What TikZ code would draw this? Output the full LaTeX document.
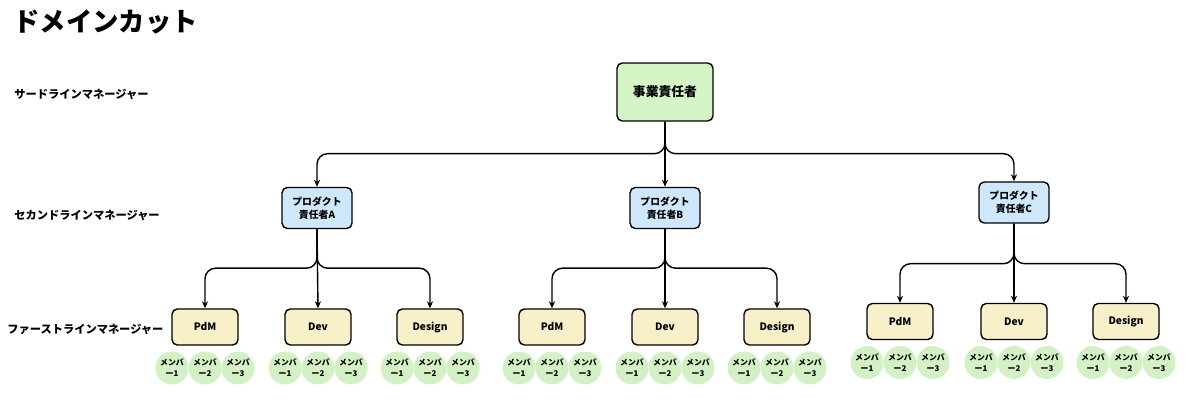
\documentclass[tikz,border=0pt]{standalone}
\usepackage{fontspec}
\setmainfont{Noto Sans CJK JP}
\usepackage{tikz}
\usetikzlibrary{arrows.meta,calc}

\definecolor{ceogreen}{HTML}{D5F5C6}
\definecolor{pmblue}{HTML}{CFE7FB}
\definecolor{teamyellow}{HTML}{F8F0C9}
\definecolor{membergreen}{HTML}{D3F1C4}

\tikzset{
  lvl/.style={anchor=west, inner sep=0pt, font=\fontsize{6.4}{7.5}\selectfont\bfseries},
  ceo/.style={draw, line width=.8pt, rounded corners=3pt, fill=ceogreen,
    minimum width=1.92cm, minimum height=1.16cm, font=\fontsize{7.3}{9}\selectfont\bfseries},
  pm/.style={draw, line width=.8pt, rounded corners=3pt, fill=pmblue, align=center,
    minimum width=1.4cm, minimum height=.82cm, font=\fontsize{5.6}{7.4}\selectfont\bfseries},
  team/.style={draw, line width=.8pt, rounded corners=3pt, fill=teamyellow,
    minimum width=1.32cm, minimum height=.72cm, font=\fontsize{5.8}{7}\selectfont\bfseries},
  member/.style={circle, fill=membergreen, minimum size=.66cm, inner sep=0pt, align=center,
    font=\fontsize{4.5}{6.2}\selectfont\bfseries},
  arr/.style={-{Stealth[length=4pt,width=3.5pt]}, line width=.8pt, rounded corners=6pt}
}

\begin{document}
\begin{tikzpicture}[x=.02cm, y=-.02cm]
    \useasboundingbox (0,0) rectangle (1200,408);
    % titles and levels
    \node (title) at (13,22) [anchor=west, inner sep=0pt, font=\fontsize{15}{18}\selectfont\bfseries] {ドメインカット};
    \node (l3) at (14,94) [lvl] {サードラインマネージャー};
    \node (l2) at (14,215) [lvl] {セカンドラインマネージャー};
    \node (l1) at (7,329) [lvl] {ファーストラインマネージャー};

    % managers
    \node (top) at (665,92) [ceo] {事業責任者};
    \node (A) at (317,208) [pm] {プロダクト\\責任者A};
    \node (B) at (665,208) [pm] {プロダクト\\責任者B};
    \node (C) at (1014,202.5) [pm] {プロダクト\\責任者C};

    \node (A1) at (205,327) [team] {PdM};
    \node (A2) at (318,327) [team] {Dev};
    \node (A3) at (430,327) [team] {Design};
    \node (B1) at (552,327) [team] {PdM};
    \node (B2) at (665,327) [team] {Dev};
    \node (B3) at (777,327) [team] {Design};
    \node (C1) at (900,321.5) [team] {PdM};
    \node (C2) at (1014,321.5) [team] {Dev};
    \node (C3) at (1126,321.5) [team] {Design};

    % members
    \foreach \t in {A1,A2,A3,B1,B2,B3,C1,C2,C3}
      \foreach \k/\dx in {1/-33,2/0,3/33}
        \node (\t-\k) at ($(\t)+(\dx,41)$) [member] {メンバ\\ー\k};

    % lines
    \draw[arr] (top.south) -- ++(0,32) -| (A.north);
    \draw[arr] (top.south) -- (B.north);
    \draw[arr] (top.south) -- ++(0,32) -| (C.north);
    \draw[arr] (A.south) -- ++(0,39) -| (A1.north);
    \draw[arr] (A.south) -- (A2.north);
    \draw[arr] (A.south) -- ++(0,39) -| (A3.north);
    \draw[arr] (B.south) -- ++(0,39) -| (B1.north);
    \draw[arr] (B.south) -- (B2.north);
    \draw[arr] (B.south) -- ++(0,39) -| (B3.north);
    \draw[arr] (C.south) -- ++(0,40) -| (C1.north);
    \draw[arr] (C.south) -- (C2.north);
    \draw[arr] (C.south) -- ++(0,40) -| (C3.north);
\end{tikzpicture}
\end{document}
